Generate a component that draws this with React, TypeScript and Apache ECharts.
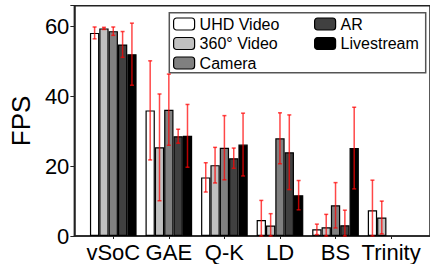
import React, { useEffect, useRef } from "react";
import * as echarts from "echarts";

const categories = ["vSoC", "GAE", "Q-K", "LD", "BS", "Trinity"];
const seriesNames = ["UHD Video", "360° Video", "Camera", "AR", "Livestream"];
const seriesColors = ["#ffffff", "#c0c0c0", "#808080", "#404040", "#000000"];

const uhdValues = [58.2, 36.0, 16.8, 4.6, 1.9, 7.4];
const uhdErrors = [1.7, 14.2, 4.2, 5.6, 1.5, 8.6];
const v360Values = [59.5, 25.4, 20.3, 3.0, 2.5, 5.3];
const v360Errors = [0.3, 15.3, 5.1, 3.4, 3.7, 4.7];
const cameraValues = [58.7, 36.2, 25.3, 28.0, 8.8, 0];
const cameraErrors = [1.2, 10.2, 9.2, 7.3, 6.5, 0];
const arValues = [54.9, 28.6, 22.3, 24.0, 3.1, 0];
const arErrors = [3.7, 2.0, 2.9, 10.7, 4.3, 0];
const liveValues = [52.1, 28.7, 26.2, 11.7, 25.2, 0];
const liveErrors = [8.9, 9.0, 9.0, 4.2, 11.7, 0];

const yTicks = [0, 20, 40, 60];

const allValues = [uhdValues, v360Values, cameraValues, arValues, liveValues];
const allErrors = [uhdErrors, v360Errors, cameraErrors, arErrors, liveErrors];

const FONT = "Liberation Sans, Arial, sans-serif";
const BAR_W = 9.33;

export default function App() {
  const ref = useRef<HTMLDivElement>(null);
  useEffect(() => {
    if (!ref.current) return;
    const chart = echarts.init(ref.current, undefined, { renderer: "svg" });

    const barSeries = allValues.map((vals, si) => ({
      type: "bar",
      name: seriesNames[si],
      barWidth: BAR_W,
      barGap: "0%",
      data: vals.map((v, i) => (v > 0 ? [i, v] : [i, null])),
      itemStyle: { color: seriesColors[si], borderColor: "#000", borderWidth: 1.2 },
      z: 2,
    }));

    const errSeries = allValues.map((vals, si) => ({
      type: "custom",
      name: seriesNames[si] + " err",
      z: 5,
      silent: true,
      renderItem: (params: any, api: any) => {
        const x = api.value(0);
        const lo = api.value(1);
        const hi = api.value(2);
        const pLo = api.coord([x, lo]);
        const pHi = api.coord([x, hi]);
        const cx = pLo[0] + (si - 2) * BAR_W;
        const style = { stroke: "rgba(255,0,0,0.72)", lineWidth: 1.5 };
        return {
          type: "group",
          children: [
            { type: "line", shape: { x1: cx, y1: pLo[1], x2: cx, y2: pHi[1] }, style },
            { type: "line", shape: { x1: cx - 2, y1: pHi[1], x2: cx + 2, y2: pHi[1] }, style },
            { type: "line", shape: { x1: cx - 2, y1: pLo[1], x2: cx + 2, y2: pLo[1] }, style },
          ],
        };
      },
      data: vals
        .map((v, i) => (v > 0 ? [i, Math.max(0, v - allErrors[si][i]), v + allErrors[si][i]] : null))
        .filter((d) => d !== null),
    }));

    const legendCommon = {
      orient: "vertical",
      padding: 0,
      itemWidth: 21,
      itemHeight: 12,
      itemGap: 3.5,
      itemStyle: { borderColor: "#000", borderWidth: 1.2 },
      textStyle: { fontSize: 16, lineHeight: 15, color: "#000", fontFamily: FONT },
      z: 6,
      selectedMode: false,
    };

    chart.setOption({
      animation: false,
      grid: {
        left: 67.3,
        top: 5.7,
        width: 365.6,
        height: 230.3,
        show: true,
        borderColor: "#222",
        borderWidth: 1.5,
        backgroundColor: "transparent",
      },
      xAxis: {
        type: "value",
        min: -0.7,
        max: 5.7,
        splitLine: { show: false },
        axisLine: { show: true, lineStyle: { color: "#222", width: 1.5 } },
        axisTick: { show: true, customValues: [0, 1, 2, 3, 4, 5], length: 3, lineStyle: { color: "#222" } },
        axisLabel: {
          customValues: [0, 1, 2, 3, 4, 5],
          formatter: (v: number) => categories[Math.round(v)] ?? "",
          fontSize: 22,
          color: "#000",
          fontFamily: FONT,
          margin: 5,
        },
      },
      yAxis: {
        type: "value",
        min: 0,
        max: 66,
        interval: 20,
        name: "FPS",
        nameLocation: "middle",
        nameGap: 38,
        nameTextStyle: { fontSize: 26, color: "#000", fontFamily: FONT },
        splitLine: { show: false },
        axisLine: { show: true, onZero: false, lineStyle: { color: "#222", width: 1.5 } },
        axisTick: { show: true, length: 4, lineStyle: { color: "#222" } },
        axisLabel: {
          customValues: yTicks,
          fontSize: 22,
          color: "#000",
          fontFamily: FONT,
          margin: 5,
        },
      },
      legend: [
        { ...legendCommon, left: 173, top: 16, data: seriesNames.slice(0, 3) },
        { ...legendCommon, left: 314, top: 16, data: seriesNames.slice(3) },
      ],
      graphic: [
        {
          type: "rect",
          z: 5,
          shape: { x: 169.3, y: 12.7, width: 256.4, height: 60 },
          style: { fill: "#fff", stroke: "#555", lineWidth: 1.5 },
        },
      ],
      series: [...barSeries, ...errSeries],
    });
    return () => chart.dispose();
  }, []);
  return (
    <div
      ref={ref}
      style={{ position: "absolute", left: 0, top: 0, width: 430, height: 264 }}
    />
  );
}
